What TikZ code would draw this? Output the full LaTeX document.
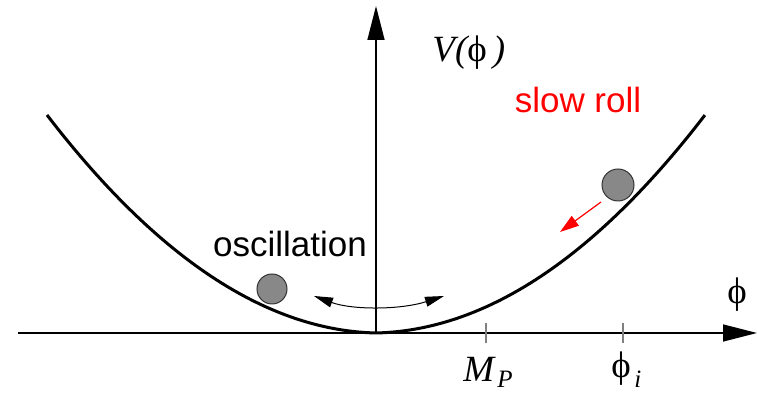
\documentclass[tikz,border=0pt]{standalone}
\usepackage{fontspec}
\setmainfont{Liberation Serif}
\setsansfont{Liberation Sans}
\usetikzlibrary{arrows.meta}
\definecolor{ballgray}{RGB}{136,136,136}
\begin{document}
\begin{tikzpicture}[x=0.5pt, y=-0.5pt,
    axis/.style={line width=0.75pt, -{Triangle[length=17pt, width=8.5pt]}},
    potential/.style={line width=1.5pt, line join=round},
    tick/.style={gray, line width=0.6pt},
    ball/.style={circle, draw=black!80, line width=0.5pt, fill=ballgray, inner sep=0pt},
    word/.style={font=\sffamily\fontsize{17.5}{20}\selectfont, inner sep=0pt},
    sym/.style={font=\fontsize{18.5}{20}\selectfont, inner sep=0pt},
    sub/.style={font=\itshape\fontsize{12.5}{13}\selectfont, inner sep=0pt}
]
\useasboundingbox (0,0) rectangle (757,394);

% Axes
\coordinate (o) at (376,333);
\coordinate (xstart) at (18,333);
\coordinate (xend) at (757,333);
\coordinate (yend) at (376,6);
\draw[axis] (xstart) -- (xend);
\draw[axis] (o) -- (yend);

% Potential
\draw[potential] plot[domain=-3.29:3.29, samples=121]
    ({376+100*\x}, {333-19.43*\x*\x-2.34*abs(\x)});

% Ticks
\draw[tick] (486,323) -- (486,343);
\draw[tick] (623,323) -- (623,343);

% Balls
\node[ball, minimum size=15pt] (lball) at (272,289) {};
\node[ball, minimum size=16pt] (rball) at (618,185) {};

% Motion
\coordinate (rs) at (601,202);
\coordinate (re) at (560,232);
\draw[red, line width=0.6pt, -{Triangle[length=9.5pt, width=6pt]}] (rs) -- (re);
\coordinate (osl) at (314,296);
\coordinate (osr) at (444,296);
\draw[line width=0.5pt, {Triangle[length=9.5pt, width=5pt]}-{Triangle[length=9.5pt, width=5pt]}]
    (osl) .. controls (352,310) and (400,310) .. (osr);

% Labels
\node[sym, anchor=base west] (vlabel) at (432,62) {\itshape V(\upshape ϕ\,\itshape )};
\node[word, red, anchor=base] (slow) at (578,113) {slow roll};
\node[word, anchor=base] (osc) at (290,257) {oscillation};
\node[sym] (philabel) at (737,295) {ϕ};
\node[sym, anchor=base west] (mp) at (463,382) {\itshape M};
\node[sub, anchor=base west] (mpsub) at (497,388) {P};
\node[sym, anchor=base west] (phii) at (611,378) {ϕ};
\node[sub, anchor=base west] (phiisub) at (634,388) {i};
\end{tikzpicture}
\end{document}
